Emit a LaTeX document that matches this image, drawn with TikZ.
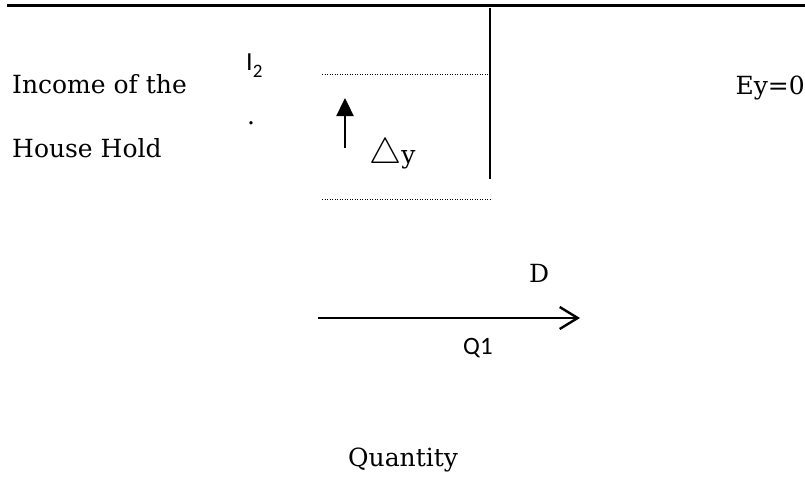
\documentclass[tikz,border=0pt]{standalone}
\usepackage{fontspec}
\setmainfont{DejaVu Serif}
\newfontfamily\labfont{Carlito}
\usetikzlibrary{arrows.meta}

\tikzset{
  txt/.style={inner sep=0pt, anchor=base west, font=\fontsize{25}{29}\selectfont},
  lab/.style={inner sep=0pt, anchor=base west, font=\labfont\fontsize{25}{29}\selectfont},
  guide/.style={line width=1pt, dash pattern=on 1pt off 1.5pt},
  axis/.style={line width=2.4pt},
}

\begin{document}
\begin{tikzpicture}[x=1pt, y=-1pt]
  \useasboundingbox (0,0) rectangle (805,479);
  % frame line and income axis
  \coordinate (TL) at (7,5);
  \coordinate (TR) at (805,5);
  \coordinate (VT) at (490,8);
  \coordinate (VB) at (490,179);
  \draw[line width=3pt] (TL) -- (TR);
  \draw[axis] (VT) -- (VB);
  % income levels
  \coordinate (U1) at (322,74);  \coordinate (U2) at (490,74);
  \coordinate (L1) at (322,199); \coordinate (L2) at (490,199);
  \draw[guide] (U1) -- (U2);
  \draw[guide] (L1) -- (L2);
  % rise in income
  \coordinate (a0) at (345,148);
  \coordinate (a1) at (345,98);
  \draw[axis, -{Triangle[width=17pt,length=18pt]}] (a0) -- (a1);
  \node[txt] (dy) at (369,163) {\scalebox{1.45}{$\bigtriangleup$}y};
  % labels
  \node[txt] (inc) at (12,93) {Income of the};
  \node[txt] (hh)  at (12,157) {House Hold};
  \node[lab, font=\labfont\fontsize{26}{30}\selectfont] (I2) at (246,70)
    {I\raisebox{-7pt}{\fontsize{19}{22}\selectfont 2}};
  \node[txt] (dot) at (247,124) {.};
  \node[txt, anchor=base east] (ey) at (805,94) {Ey=0};
  % demand arrow
  \coordinate (d0) at (318,318);
  \coordinate (d1) at (580,318);
  \draw[axis, -{Straight Barb[length=18pt,width=22pt]}] (d0) -- (d1);
  \node[txt] (D)  at (529,282) {D};
  \node[lab] (Q1) at (463,354) {Q1};
  \node[txt] (qty) at (348,466) {Quantity};
\end{tikzpicture}
\end{document}
